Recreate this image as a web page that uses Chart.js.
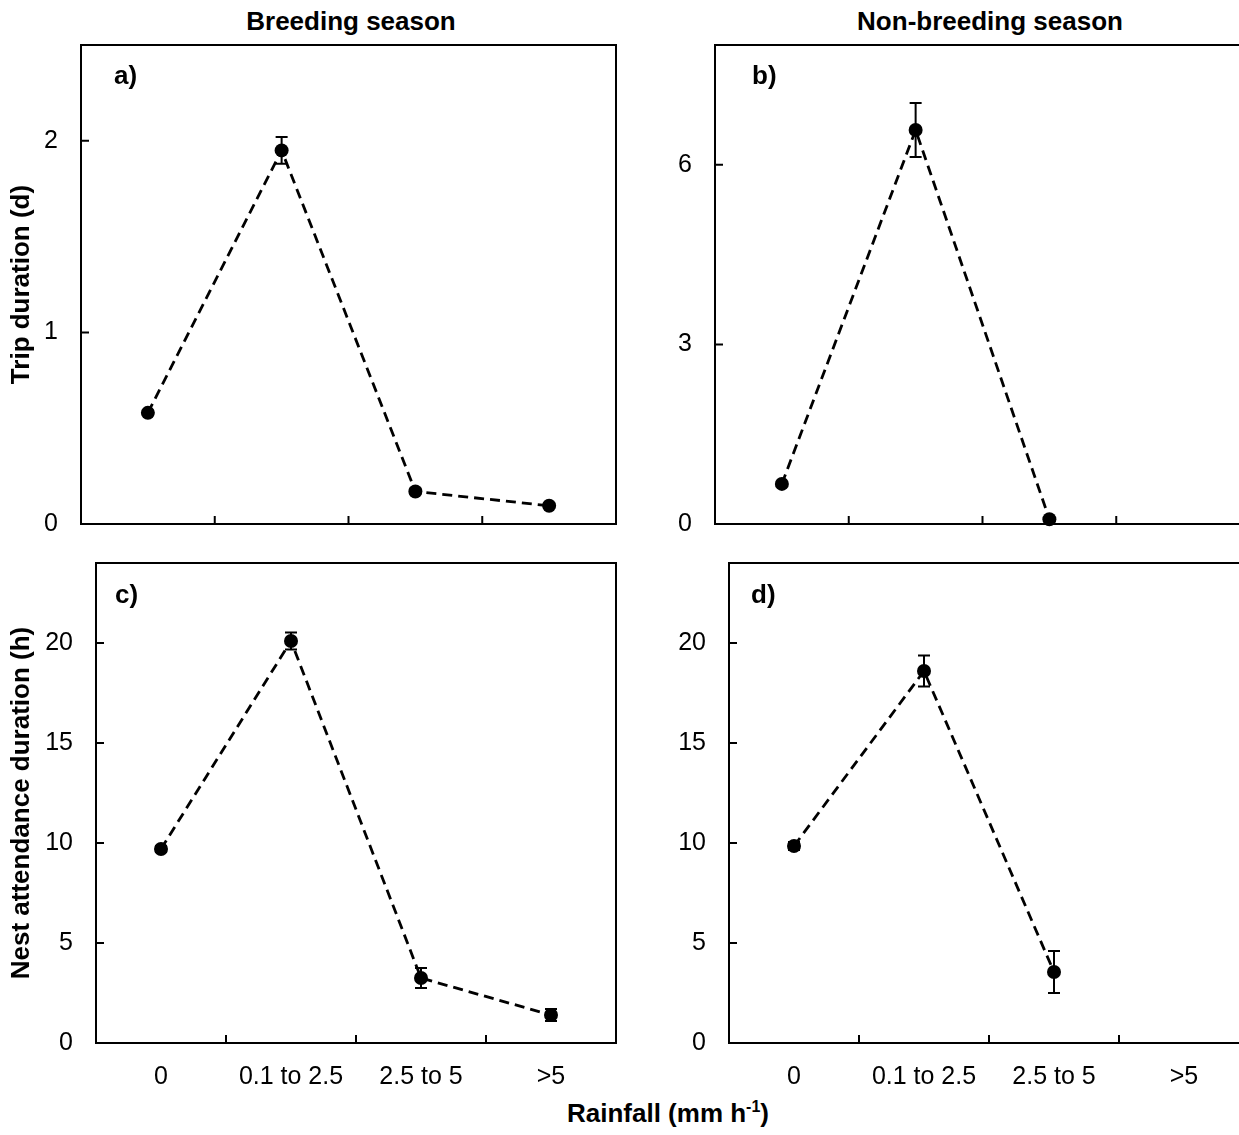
<!DOCTYPE html>
<html>
<head>
<meta charset="utf-8">
<script src="https://cdn.jsdelivr.net/npm/chart.js@4.4.0/dist/chart.umd.min.js"></script>
<style>
    html, body { margin: 0; padding: 0; background: #fff; overflow: hidden; width: 1239px; height: 1135px; }
    body { position: relative; font-family: "Liberation Sans", Arial, sans-serif; color: #000; }
    canvas { position: absolute; }
    .titulo { position: absolute; font-weight: bold; font-size: 26px; line-height: 26px; white-space: nowrap; transform: translateX(-50%); }
    .titulo sup { font-size: 16px; line-height: 0; vertical-align: 10px; }
</style>
</head>
<body>
<div class="titulo" style="left:351px; top:8px;">Breeding season</div>
<div class="titulo" style="left:990px; top:8px;">Non-breeding season</div>
<div class="titulo" style="left:668px; top:1100px;">Rainfall (mm h<sup>-1</sup>)</div>

<canvas id="panelA" width="625" height="562" style="left:0; top:0;"></canvas>
<canvas id="panelB" width="620" height="562" style="left:640px; top:0;"></canvas>
<canvas id="panelC" width="625" height="610" style="left:0; top:525px;"></canvas>
<canvas id="panelD" width="620" height="610" style="left:640px; top:525px;"></canvas>

<script>
// Categorias de lluvia
const rainfallCats = ['0', '0.1 to 2.5', '2.5 to 5', '>5'];

// Duracion de viaje (d)
const tripBreeding = [0.58, 1.95, 0.17, 0.095];
const tripBreedingErr = [0.012, 0.07, 0.015, 0.012];
const tripNonBreeding = [0.67, 6.58, 0.08, null];
const tripNonBreedingErr = [0.03, 0.45, 0.02, null];

// Duracion de atencion al nido (h)
const nestBreeding = [9.7, 20.1, 3.25, 1.4];
const nestBreedingErr = [0.15, 0.43, 0.5, 0.3];
const nestNonBreeding = [9.85, 18.6, 3.55, null];
const nestNonBreedingErr = [0.2, 0.78, 1.05, null];

// Marcas del eje y
const ticksTripBreeding = [0, 1, 2];
const ticksTripNonBreeding = [0, 3, 6];
const ticksNest = [0, 5, 10, 15, 20];

Chart.defaults.font.family = '"Liberation Sans", Arial, sans-serif';
Chart.defaults.color = '#000';

// Marco, marcas hacia dentro, barras de error y letra del panel
const marcoPlugin = {
    id: 'marco',
    beforeDatasetsDraw(chart, args, opts) {
        const { ctx, chartArea: a, scales: { x, y } } = chart;
        ctx.save();
        ctx.strokeStyle = '#000';
        ctx.lineWidth = 2;
        ctx.strokeRect(a.left, a.top, a.right - a.left, a.bottom - a.top);

        ctx.beginPath();
        y.ticks.forEach(t => {
            const py = y.getPixelForValue(t.value);
            if (py < a.bottom - 2) {
                ctx.moveTo(a.left, py);
                ctx.lineTo(a.left + 8, py);
            }
        });
        const n = chart.data.labels.length;
        for (let i = 1; i < n; i++) {
            const px = (x.getPixelForValue(i - 1) + x.getPixelForValue(i)) / 2;
            ctx.moveTo(px, a.bottom);
            ctx.lineTo(px, a.bottom - 8);
        }
        ctx.stroke();

        // barras de error
        const ds = chart.data.datasets[0];
        ctx.lineWidth = 2;
        ctx.beginPath();
        ds.data.forEach((v, i) => {
            const e = ds.errors[i];
            if (v === null || e === null) return;
            const px = x.getPixelForValue(i);
            const pTop = y.getPixelForValue(v + e);
            const pBot = y.getPixelForValue(v - e);
            ctx.moveTo(px, pTop); ctx.lineTo(px, pBot);
            ctx.moveTo(px - 6, pTop); ctx.lineTo(px + 6, pTop);
            ctx.moveTo(px - 6, pBot); ctx.lineTo(px + 6, pBot);
        });
        ctx.stroke();
        ctx.restore();
    },
    afterDatasetsDraw(chart, args, opts) {
        const { ctx, chartArea: a } = chart;
        ctx.save();
        ctx.fillStyle = '#000';
        ctx.font = 'bold 26px "Liberation Sans", Arial, sans-serif';
        ctx.textAlign = 'left';
        ctx.textBaseline = 'middle';
        ctx.fillText(opts.letra, a.left + opts.dx, a.top + opts.dy);
        ctx.restore();
    }
};

function renderPanel(id, valores, errores, yMax, yTicks, cfg) {
    const ctx = document.getElementById(id).getContext('2d');
    return new Chart(ctx, {
        type: 'line',
        data: {
            labels: rainfallCats,
            datasets: [{
                data: valores,
                errors: errores,
                borderColor: '#000',
                borderWidth: 2.8,
                borderDash: [10, 6],
                pointRadius: 7,
                pointHoverRadius: 7,
                pointBackgroundColor: '#000',
                pointBorderWidth: 0,
                tension: 0,
                fill: false,
                clip: false
            }]
        },
        options: {
            responsive: false,
            animation: false,
            events: [],
            layout: { padding: cfg.padding },
            plugins: {
                legend: { display: false },
                tooltip: { enabled: false },
                marco: { letra: cfg.letra, dx: cfg.dx, dy: cfg.dy }
            },
            scales: {
                x: {
                    type: 'category',
                    offset: true,
                    grid: { display: false, drawTicks: false },
                    border: { display: false },
                    ticks: { display: cfg.xLabels, font: { size: 25 }, padding: 19, maxRotation: 0, autoSkip: false },
                    afterFit: s => { s.height = cfg.xAlto; }
                },
                y: {
                    min: 0,
                    max: yMax,
                    grid: { display: false, drawTicks: false },
                    border: { display: false },
                    ticks: { font: { size: 25 }, padding: 23 },
                    afterBuildTicks: s => { s.ticks = yTicks.map(v => ({ value: v })); },
                    afterFit: s => { s.width = cfg.yAncho; },
                    title: {
                        display: !!cfg.yTitulo,
                        text: cfg.yTitulo || '',
                        font: { size: 26, weight: 'bold' },
                        padding: { top: 6, bottom: 0 }
                    }
                }
            }
        },
        plugins: [marcoPlugin]
    });
}

renderPanel('panelA', tripBreeding, tripBreedingErr, 2.5, ticksTripBreeding, {
    padding: { top: 45, right: 9, bottom: 0, left: 0 }, yAncho: 81, xAlto: 38, xLabels: false,
    yTitulo: 'Trip duration (d)', letra: 'a)', dx: 33, dy: 32
});
renderPanel('panelB', tripNonBreeding, tripNonBreedingErr, 8, ticksTripNonBreeding, {
    padding: { top: 45, right: 10, bottom: 0, left: 0 }, yAncho: 75, xAlto: 38, xLabels: false,
    yTitulo: null, letra: 'b)', dx: 37, dy: 32
});
renderPanel('panelC', nestBreeding, nestBreedingErr, 24, ticksNest, {
    padding: { top: 0, right: 9, bottom: 0, left: 0 }, yAncho: 96, xAlto: 92, xLabels: true,
    yTitulo: 'Nest attendance duration (h)', letra: 'c)', dx: 19, dy: 33
});
renderPanel('panelD', nestNonBreeding, nestNonBreedingErr, 24, ticksNest, {
    padding: { top: 0, right: 11, bottom: 0, left: 0 }, yAncho: 89, xAlto: 92, xLabels: true,
    yTitulo: null, letra: 'd)', dx: 22, dy: 33
});
</script>
</body>
</html>
